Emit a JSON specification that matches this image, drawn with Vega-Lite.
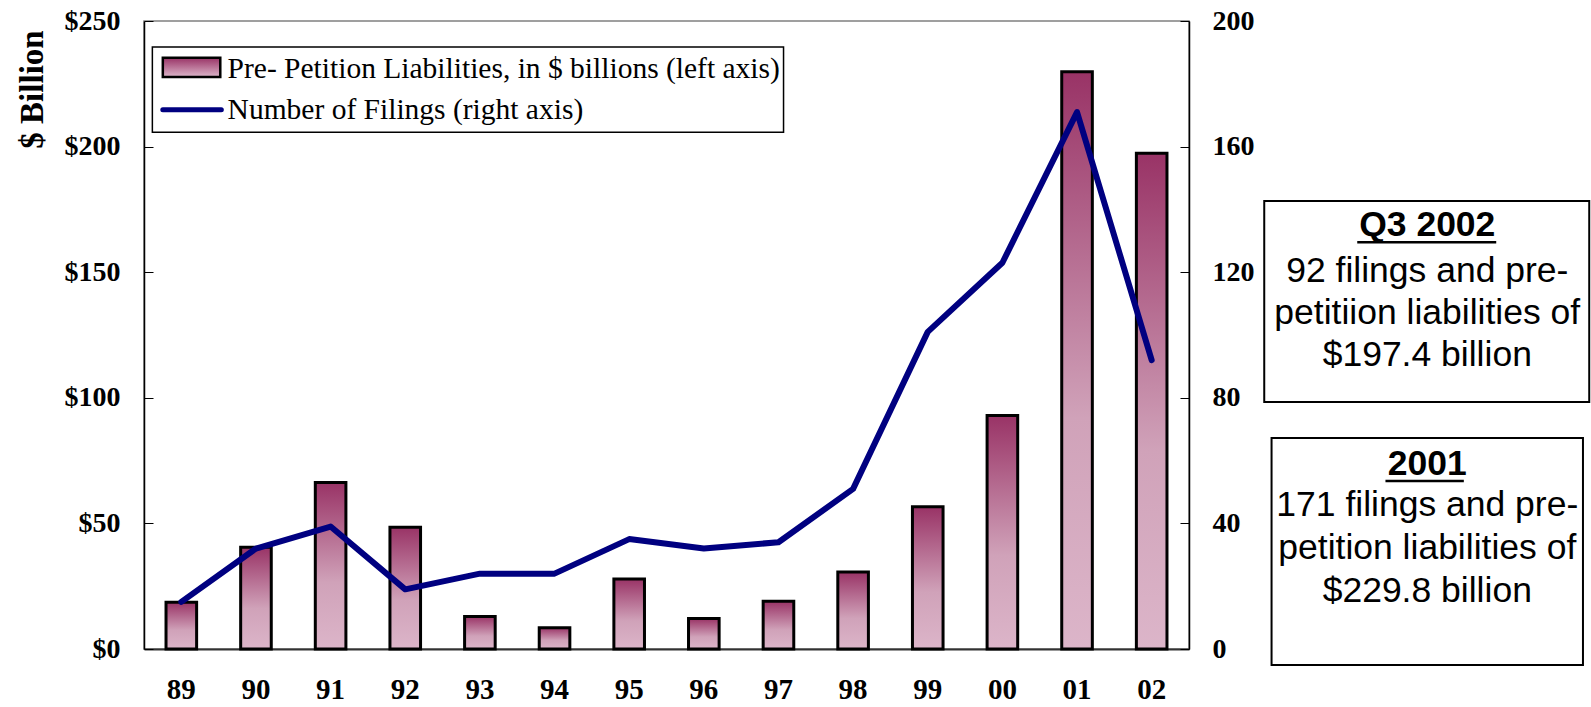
{
  "$schema": "https://vega.github.io/schema/vega-lite/v6.json",
  "width": 1045,
  "height": 628,
  "autosize": {"type": "none"},
  "padding": {"left": 144, "top": 21, "right": 402, "bottom": 58},
  "background": "white",
  "config": {"view": {"stroke": "#808080", "strokeWidth": 1.5}, "font": "Liberation Serif"},
  "layer": [
    {
      "data": {"values": [
        {"year": "89", "liabilities": 18.6, "filings": 15},
        {"year": "90", "liabilities": 40.5, "filings": 32},
        {"year": "91", "liabilities": 66.3, "filings": 39},
        {"year": "92", "liabilities": 48.5, "filings": 19},
        {"year": "93", "liabilities": 12.9, "filings": 24},
        {"year": "94", "liabilities": 8.5, "filings": 24},
        {"year": "95", "liabilities": 27.9, "filings": 35},
        {"year": "96", "liabilities": 12.1, "filings": 32},
        {"year": "97", "liabilities": 19.0, "filings": 34},
        {"year": "98", "liabilities": 30.7, "filings": 51},
        {"year": "99", "liabilities": 56.6, "filings": 101},
        {"year": "00", "liabilities": 93.0, "filings": 123},
        {"year": "01", "liabilities": 229.8, "filings": 171},
        {"year": "02", "liabilities": 197.4, "filings": 92}
      ]},
      "encoding": {
        "x": {
          "field": "year", "type": "nominal", "sort": null,
          "scale": {"paddingInner": 0.59, "paddingOuter": 0.295},
          "axis": {"title": null, "labelAngle": 0, "labelFont": "Liberation Serif", "labelFontSize": 29, "labelFontWeight": "bold", "labelColor": "black", "labelPadding": 26, "ticks": false, "domainColor": "#333333", "domainWidth": 2}
        }
      },
      "layer": [
        {
          "mark": {"type": "bar", "stroke": "black", "strokeWidth": 3,
            "fill": {"gradient": "linear", "x1": 0, "y1": 0, "x2": 0, "y2": 1,
              "stops": [{"offset": 0, "color": "#993366"}, {"offset": 0.6, "color": "#d0a2b9"}, {"offset": 1, "color": "#dcb5c9"}]}},
          "encoding": {
            "y": {
              "field": "liabilities", "type": "quantitative",
              "scale": {"domain": [0, 250], "nice": false},
              "axis": {"orient": "left", "values": [0, 50, 100, 150, 200, 250], "labelExpr": "'$' + datum.value", "grid": false,
                "labelFont": "Liberation Serif", "labelFontSize": 28, "labelFontWeight": "bold", "labelColor": "black",
                "tickSize": -9, "tickColor": "black", "labelPadding": 33, "domainColor": "black", "domainWidth": 1.5,
                "title": "$ Billion", "titleFont": "Liberation Serif", "titleFontSize": 33, "titleFontWeight": "bold", "titleColor": "black",
                "titleX": -112, "titleY": 68, "titleAngle": -90, "titleAlign": "center", "titleBaseline": "middle"}
            }
          }
        },
        {
          "mark": {"type": "line", "color": "#000080", "strokeWidth": 6, "strokeCap": "round", "strokeJoin": "round"},
          "encoding": {
            "y": {
              "field": "filings", "type": "quantitative",
              "scale": {"domain": [0, 200], "nice": false},
              "axis": {"orient": "right", "values": [0, 40, 80, 120, 160, 200], "grid": false, "title": null,
                "labelFont": "Liberation Serif", "labelFontSize": 28, "labelFontWeight": "bold", "labelColor": "black",
                "tickSize": -9, "tickColor": "black", "labelPadding": 32, "domainColor": "black", "domainWidth": 1.5}
            }
          }
        }
      ],
      "resolve": {"scale": {"y": "independent"}}
    },
    {
      "data": {"values": [{}]},
      "layer": [
        {
          "mark": {"type": "rect", "fill": "white", "stroke": "black", "strokeWidth": 1.5},
          "encoding": {
            "x": {"datum": 0.8, "type": "quantitative", "scale": {"domain": [0, 100], "nice": false, "zero": false}, "axis": null},
            "x2": {"datum": 61.2},
            "y": {"datum": 191.7, "type": "quantitative", "scale": {"domain": [0, 200], "nice": false, "zero": false}, "axis": null},
            "y2": {"datum": 164.6}
          }
        },
        {
          "mark": {"type": "rect", "stroke": "black", "strokeWidth": 2.5,
            "fill": {"gradient": "linear", "x1": 0, "y1": 0, "x2": 0, "y2": 1,
              "stops": [{"offset": 0, "color": "#993366"}, {"offset": 1, "color": "#dcb5c9"}]}},
          "encoding": {
            "x": {"datum": 1.8, "type": "quantitative", "scale": {"domain": [0, 100], "nice": false, "zero": false}, "axis": null},
            "x2": {"datum": 7.3},
            "y": {"datum": 188.3, "type": "quantitative", "scale": {"domain": [0, 200], "nice": false, "zero": false}, "axis": null},
            "y2": {"datum": 182.2}
          }
        },
        {
          "mark": {"type": "rule", "color": "#000080", "strokeWidth": 5, "strokeCap": "round"},
          "encoding": {
            "x": {"datum": 1.8, "type": "quantitative", "scale": {"domain": [0, 100], "nice": false, "zero": false}, "axis": null},
            "x2": {"datum": 7.4},
            "y": {"datum": 171.7, "type": "quantitative", "scale": {"domain": [0, 200], "nice": false, "zero": false}, "axis": null}
          }
        },
        {
          "mark": {"type": "text", "align": "left", "baseline": "middle", "font": "Liberation Serif", "fontSize": 29.5, "color": "black", "text": "Pre- Petition Liabilities, in $ billions (left axis)"},
          "encoding": {
            "x": {"datum": 8.0, "type": "quantitative", "scale": {"domain": [0, 100], "nice": false, "zero": false}, "axis": null},
            "y": {"datum": 184.7, "type": "quantitative", "scale": {"domain": [0, 200], "nice": false, "zero": false}, "axis": null}
          }
        },
        {
          "mark": {"type": "text", "align": "left", "baseline": "middle", "font": "Liberation Serif", "fontSize": 29.5, "color": "black", "text": "Number of Filings (right axis)"},
          "encoding": {
            "x": {"datum": 8.0, "type": "quantitative", "scale": {"domain": [0, 100], "nice": false, "zero": false}, "axis": null},
            "y": {"datum": 171.7, "type": "quantitative", "scale": {"domain": [0, 200], "nice": false, "zero": false}, "axis": null}
          }
        },
        {
          "mark": {"type": "rect", "fill": "white", "stroke": "black", "strokeWidth": 2},
          "encoding": {
            "x": {"datum": 107.2, "type": "quantitative", "scale": {"domain": [0, 100], "nice": false, "zero": false}, "axis": null},
            "x2": {"datum": 138.3},
            "y": {"datum": 142.7, "type": "quantitative", "scale": {"domain": [0, 200], "nice": false, "zero": false}, "axis": null},
            "y2": {"datum": 78.7}
          }
        },
        {
          "mark": {"type": "rect", "fill": "white", "stroke": "black", "strokeWidth": 2},
          "encoding": {
            "x": {"datum": 107.9, "type": "quantitative", "scale": {"domain": [0, 100], "nice": false, "zero": false}, "axis": null},
            "x2": {"datum": 137.7},
            "y": {"datum": 67.2, "type": "quantitative", "scale": {"domain": [0, 200], "nice": false, "zero": false}, "axis": null},
            "y2": {"datum": -5.1}
          }
        },
        {
          "mark": {"type": "text", "align": "center", "baseline": "middle", "font": "Liberation Sans", "fontSize": 35.5, "fontWeight": "bold", "color": "black", "text": "Q3 2002"},
          "encoding": {
            "x": {"datum": 122.8, "type": "quantitative", "scale": {"domain": [0, 100], "nice": false, "zero": false}, "axis": null},
            "y": {"datum": 135.0, "type": "quantitative", "scale": {"domain": [0, 200], "nice": false, "zero": false}, "axis": null}
          }
        },
        {
          "mark": {"type": "text", "align": "center", "baseline": "middle", "font": "Liberation Sans", "fontSize": 35.5, "lineHeight": 42.1, "color": "black", "text": ["92 filings and pre-", "petitiion liabilities of", "$197.4 billion"]},
          "encoding": {
            "x": {"datum": 122.8, "type": "quantitative", "scale": {"domain": [0, 100], "nice": false, "zero": false}, "axis": null},
            "y": {"datum": 120.4, "type": "quantitative", "scale": {"domain": [0, 200], "nice": false, "zero": false}, "axis": null}
          }
        },
        {
          "mark": {"type": "text", "align": "center", "baseline": "middle", "font": "Liberation Sans", "fontSize": 35.5, "fontWeight": "bold", "color": "black", "text": "2001"},
          "encoding": {
            "x": {"datum": 122.8, "type": "quantitative", "scale": {"domain": [0, 100], "nice": false, "zero": false}, "axis": null},
            "y": {"datum": 58.9, "type": "quantitative", "scale": {"domain": [0, 200], "nice": false, "zero": false}, "axis": null}
          }
        },
        {
          "mark": {"type": "text", "align": "center", "baseline": "middle", "font": "Liberation Sans", "fontSize": 35.5, "lineHeight": 43.1, "color": "black", "text": ["171 filings and pre-", "petition liabilities of", "$229.8 billion"]},
          "encoding": {
            "x": {"datum": 122.8, "type": "quantitative", "scale": {"domain": [0, 100], "nice": false, "zero": false}, "axis": null},
            "y": {"datum": 45.9, "type": "quantitative", "scale": {"domain": [0, 200], "nice": false, "zero": false}, "axis": null}
          }
        },
        {
          "mark": {"type": "rule", "color": "black", "strokeWidth": 2.5},
          "encoding": {
            "x": {"datum": 116.1, "type": "quantitative", "scale": {"domain": [0, 100], "nice": false, "zero": false}, "axis": null},
            "x2": {"datum": 129.4},
            "y": {"datum": 129.5, "type": "quantitative", "scale": {"domain": [0, 200], "nice": false, "zero": false}, "axis": null}
          }
        },
        {
          "mark": {"type": "rule", "color": "black", "strokeWidth": 2.5},
          "encoding": {
            "x": {"datum": 118.8, "type": "quantitative", "scale": {"domain": [0, 100], "nice": false, "zero": false}, "axis": null},
            "x2": {"datum": 126.3},
            "y": {"datum": 53.5, "type": "quantitative", "scale": {"domain": [0, 200], "nice": false, "zero": false}, "axis": null}
          }
        }
      ]
    }
  ],
  "resolve": {"scale": {"x": "independent", "y": "independent"}}
}
